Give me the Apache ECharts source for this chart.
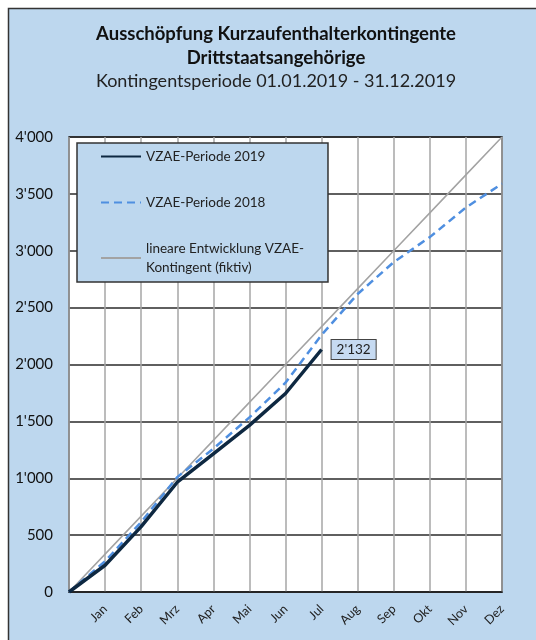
<!DOCTYPE html>
<html lang="de">
<head>
  <meta charset="UTF-8">
  <title>Ausschöpfung Kurzaufenthalterkontingente</title>
  <script src="https://cdn.jsdelivr.net/npm/echarts@6/dist/echarts.min.js"></script>
  <style>
    body { margin: 0; background: #fff; }
    #chart { width: 536px; height: 640px; }
  </style>
</head>
<body>
  <div id="chart"></div>
  <script>
    // Monate (erster Punkt = Periodenbeginn, ohne Beschriftung)
    const months = ['', 'Jan', 'Feb', 'Mrz', 'Apr', 'Mai', 'Jun', 'Jul', 'Aug', 'Sep', 'Okt', 'Nov', 'Dez'];
    const vzae2019 = [0, 235, 575, 965, 1215, 1465, 1745, 2132];
    const vzae2018 = [0, 270, 615, 1010, 1260, 1535, 1840, 2260, 2620, 2900, 3120, 3380, 3590];
    const linear = [0, 333, 667, 1000, 1333, 1667, 2000, 2333, 2667, 3000, 3333, 3667, 4000];
    const yTicks = [0, 4000, 500]; // min, max, interval

    const names = ['VZAE-Periode 2019', 'VZAE-Periode 2018', 'lineare Entwicklung VZAE-Kontingent (fiktiv)'];

    // 4000 -> 4'000
    function fmt(v) {
      if (v < 1000) return String(v);
      return Math.floor(v / 1000) + "'" + String(v % 1000).padStart(3, '0');
    }

    const font = 'Lato, "Open Sans", sans-serif';
    const chart = echarts.init(document.getElementById('chart'));

    // letzter Wert 2019 mit Beschriftung
    const data2019 = vzae2019.map((v, i) => i === vzae2019.length - 1 ? {
      value: v,
      label: {
        show: true, position: 'right', distance: 10,
        formatter: p => fmt(p.value),
        fontFamily: font, fontSize: 13.5, color: '#222',
        backgroundColor: '#c6daf1', borderColor: '#444', borderWidth: 1,
        padding: [3, 5, 2, 5]
      }
    } : v);

    chart.setOption({
      backgroundColor: '#fff',
      animation: false,
      graphic: [{
        type: 'rect', z: -10, silent: true,
        shape: { x: 8.5, y: 8.5, width: 600, height: 700 },
        style: { fill: '#bdd7ee', stroke: '#333', lineWidth: 1.5 }
      }],
      title: {
        text: 'Ausschöpfung Kurzaufenthalterkontingente\nDrittstaatsangehörige',
        subtext: 'Kontingentsperiode 01.01.2019 - 31.12.2019',
        left: 271, textAlign: 'center', top: 17,
        itemGap: 2,
        textStyle: { fontFamily: font, fontSize: 18.5, fontWeight: 'bold', color: '#111', lineHeight: 24 },
        subtextStyle: { fontFamily: font, fontSize: 18, color: '#222' }
      },
      legend: {
        orient: 'vertical',
        left: 77, top: 143,
        backgroundColor: '#bdd7ee',
        borderColor: '#333', borderWidth: 1.5, borderRadius: 0,
        padding: [4, 24, 5, 23],
        itemWidth: 40, itemHeight: 14, itemGap: 27,
        itemStyle: { opacity: 0, borderWidth: 0 },
        formatter: n => n === names[2] ? 'lineare Entwicklung VZAE-\nKontingent (fiktiv)' : n,
        textStyle: { fontFamily: font, fontSize: 13.5, color: '#222', lineHeight: 19 },
        data: names
      },
      grid: {
        left: 69, right: 34, top: 137, bottom: 48,
        show: true, backgroundColor: '#fff', borderColor: '#222', borderWidth: 1.5
      },
      xAxis: {
        type: 'category',
        data: months,
        boundaryGap: false,
        axisTick: { show: false },
        axisLine: { lineStyle: { color: '#222', width: 1.5 } },
        axisLabel: { interval: 0, rotate: 45, margin: 15, fontFamily: font, fontSize: 12.5, color: '#222' },
        splitLine: { show: true, interval: 0, lineStyle: { color: '#a6a6a6', width: 1.5 } }
      },
      yAxis: {
        type: 'value',
        min: yTicks[0], max: yTicks[1], interval: yTicks[2],
        axisTick: { show: false },
        axisLine: { show: false },
        axisLabel: { formatter: fmt, margin: 16, fontFamily: font, fontSize: 15, color: '#111' },
        splitLine: { lineStyle: { color: '#2a2a2a', width: 1.5 } }
      },
      series: [
        {
          name: names[2], type: 'line', data: linear, symbol: 'none', z: 2,
          lineStyle: { color: '#a3a3a3', width: 1.5 }, itemStyle: { color: '#a3a3a3' }
        },
        {
          name: names[1], type: 'line', data: vzae2018, symbol: 'none', z: 3,
          lineStyle: { color: '#4f8fe0', width: 2.5, type: [8, 5] }, itemStyle: { color: '#4f8fe0' }
        },
        {
          name: names[0], type: 'line', data: data2019, symbol: 'circle', symbolSize: 0, z: 4,
          lineStyle: { color: '#0e2841', width: 3.5 }, itemStyle: { color: '#0e2841' }
        }
      ]
    });
  </script>
</body>
</html>
